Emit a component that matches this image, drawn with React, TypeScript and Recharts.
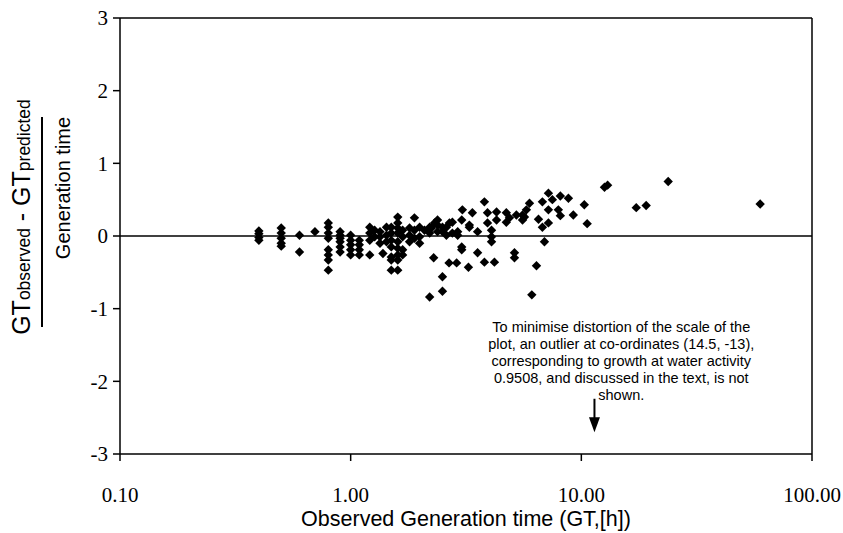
import { ScatterChart, Scatter, XAxis, YAxis, ReferenceLine, ReferenceDot } from "recharts";

// axis ticks
const xTicks = [0.1, 1, 10, 100];
const yTicks = [-3, -2, -1, 0, 1, 2, 3];

// observed generation time (h)
const generationTime = [
  0.4, 0.4, 0.4, 0.4,
  0.5, 0.5, 0.5, 0.5, 0.5,
  0.6, 0.6, 0.7,
  0.8, 0.8, 0.8, 0.8, 0.8, 0.8, 0.8, 0.8,
  0.9, 0.9, 0.9, 0.9, 0.9, 0.9,
  1.0, 1.0, 1.0, 1.0, 1.0,
  1.09, 1.09, 1.09, 1.09,
  1.21, 1.21, 1.21, 1.21,
  1.27, 1.27, 1.34, 1.34, 1.34, 1.38,
  1.43, 1.43, 1.43,
  1.5, 1.5, 1.5, 1.5, 1.5, 1.5, 1.5,
  1.6, 1.6, 1.6, 1.6, 1.6, 1.6, 1.6, 1.6, 1.6,
  1.68, 1.68, 1.68, 1.68,
  1.8, 1.8, 1.8, 1.89, 1.89, 1.89,
  1.99, 1.99, 1.99, 2.09,
  2.2, 2.2, 2.2, 2.24, 2.31, 2.29,
  2.38, 2.38, 2.38,
  2.5, 2.5, 2.5, 2.5,
  2.6, 2.6, 2.67, 2.68, 2.76, 2.76, 2.88, 2.91, 2.91,
  3.03, 3.03, 3.03, 3.05, 3.24, 3.27, 3.27, 3.37,
  3.55, 3.55, 3.8, 3.8, 3.92, 3.92,
  4.08, 4.08, 4.08, 4.2, 4.29, 4.29,
  4.73, 4.73, 4.88, 5.13, 5.13, 5.23,
  5.56, 5.56, 5.67, 5.78, 5.96, 6.1,
  6.39, 6.52, 6.78, 6.78, 6.92,
  7.2, 7.2, 7.2, 7.49, 7.95, 8.11, 8.11,
  8.79, 9.23, 10.3, 10.6,
  12.6, 13.0, 17.3, 19.1, 23.8, 59.6,
];

// (GTobserved - GTpredicted) / generation time
const relativeError = [
  0.07, 0.03, -0.02, -0.06,
  0.11, 0.04, -0.03, -0.1, -0.14,
  0.01, -0.22, 0.06,
  0.18, 0.12, 0.04, -0.03, -0.19, -0.26, -0.33, -0.47,
  0.06, 0.01, -0.03, -0.08, -0.15, -0.22,
  0.01, -0.06, -0.12, -0.19, -0.26,
  -0.06, -0.12, -0.19, -0.26,
  0.12, 0.04, -0.06, -0.26,
  0.08, -0.01, 0.06, -0.01, -0.1, -0.24,
  0.12, 0.01, -0.08,
  0.12, 0.04, -0.06, -0.15, -0.29, -0.33, -0.47,
  0.26, 0.18, 0.11, 0.04, -0.08, -0.17, -0.26, -0.33, -0.47,
  0.08, -0.01, -0.19, -0.26,
  0.11, 0.01, -0.08, 0.25, 0.08, -0.03,
  0.12, -0.01, -0.1, 0.08,
  0.12, 0.04, -0.84, 0.11, 0.18, -0.3,
  0.22, 0.15, 0.06,
  0.12, 0.06, -0.56, -0.76,
  0.01, 0.12, -0.37, 0.18, 0.19, 0.04, -0.37, 0.06, 0.01,
  0.22, -0.15, -0.19, 0.36, -0.43, 0.15, 0.12, 0.32,
  0.06, -0.23, 0.47, -0.36, 0.32, 0.18,
  0.08, -0.01, -0.08, -0.36, 0.33, 0.22,
  0.32, 0.19, 0.25, -0.23, -0.3, 0.29,
  0.29, 0.22, 0.26, 0.36, 0.45, -0.81,
  -0.41, 0.23, 0.47, 0.12, -0.08,
  0.59, 0.36, 0.18, 0.5, 0.36, 0.55, 0.28,
  0.52, 0.29, 0.43, 0.17,
  0.67, 0.7, 0.39, 0.42, 0.75, 0.44,
];

const noteLines = [
  "To minimise distortion of the scale of the",
  "plot, an outlier at co-ordinates (14.5, -13),",
  "corresponding to growth at water activity",
  "0.9508, and discussed in the text, is not",
  "shown.",
];

const points = generationTime.map((gt, i) => ({ gt, err: relativeError[i] }));

const Diamond = (props: any) => {
  const { cx, cy } = props;
  const r = 4.7;
  return (
    <polygon
      points={`${cx},${cy - r} ${cx + r},${cy} ${cx},${cy + r} ${cx - r},${cy}`}
      fill="#000"
    />
  );
};

const Arrow = (props: any) => {
  const { x1, y1, x2, y2 } = props;
  return (
    <g>
      <line x1={x1} y1={y1} x2={x2} y2={y2 - 10} stroke="#000" strokeWidth={2} />
      <polygon points={`${x2 - 5.5},${y2 - 15} ${x2 + 5.5},${y2 - 15} ${x2},${y2}`} fill="#000" />
    </g>
  );
};

const Note = (props: any) => {
  const { cx, cy } = props;
  return (
    <text
      x={cx}
      y={cy + 5}
      textAnchor="middle"
      fontFamily="Liberation Sans, Arial, sans-serif"
      fontSize={14.5}
      fill="#000"
    >
      {noteLines.map((line, i) => (
        <tspan key={i} x={cx} dy={i === 0 ? 0 : 17}>
          {line}
        </tspan>
      ))}
    </text>
  );
};

const serifTick = { fontSize: 21, fontFamily: "Liberation Serif, Times New Roman, serif", fill: "#000" };
const sans = "Liberation Sans, Arial, sans-serif";

export default function App() {
  return (
    <div style={{ position: "absolute", left: 0, top: 0, width: 843, height: 533, background: "#fff" }}>
      <ScatterChart width={843} height={533} margin={{ top: 18, right: 31, left: 0, bottom: 0 }}>
        <XAxis
          type="number"
          dataKey="gt"
          scale="log"
          domain={[0.1, 100]}
          ticks={xTicks}
          allowDataOverflow
          tickFormatter={(v: number) => v.toFixed(2)}
          tick={serifTick}
          tickSize={7}
          tickMargin={26}
          height={79}
          axisLine={{ stroke: "#000", strokeWidth: 1.5 }}
          tickLine={{ stroke: "#000", strokeWidth: 1.5 }}
          label={{
            value: "Observed Generation time (GT,[h])",
            position: "insideBottom",
            offset: 7,
            style: { fontFamily: sans, fontSize: 21.5, fill: "#000" },
          }}
        />
        <YAxis
          type="number"
          dataKey="err"
          domain={[-3, 3]}
          ticks={yTicks}
          interval={0}
          tick={serifTick}
          tickSize={7}
          tickMargin={5}
          width={120}
          axisLine={{ stroke: "#000", strokeWidth: 1.5 }}
          tickLine={{ stroke: "#000", strokeWidth: 1.5 }}
        />
        <ReferenceLine y={3} stroke="#000" strokeWidth={1.5} />
        <ReferenceLine x={100} stroke="#000" strokeWidth={1.5} />
        <ReferenceLine y={0} stroke="#000" strokeWidth={1.5} />
        <ReferenceLine
          segment={[
            { x: 11.4, y: -2.24 },
            { x: 11.4, y: -2.7 },
          ]}
          shape={Arrow}
        />
        <ReferenceDot x={14.9} y={-1.25} r={0} shape={Note} />
        <Scatter data={points} shape={Diamond} isAnimationActive={false} />
      </ScatterChart>
      <svg width={90} height={533} style={{ position: "absolute", left: 0, top: 0 }}>
        <text
          transform="translate(30,217) rotate(-90)"
          textAnchor="middle"
          fontFamily={sans}
          fill="#000"
        >
          <tspan fontSize={25}>GT</tspan>
          <tspan fontSize={17.5}>observed</tspan>
          <tspan fontSize={25}> - GT</tspan>
          <tspan fontSize={17.5}>predicted</tspan>
        </text>
        <line x1={42} y1={117} x2={42} y2={327} stroke="#000" strokeWidth={2} />
        <text
          transform="translate(70,188) rotate(-90)"
          textAnchor="middle"
          fontFamily={sans}
          fontSize={20}
          fill="#000"
        >
          Generation time
        </text>
      </svg>
    </div>
  );
}
